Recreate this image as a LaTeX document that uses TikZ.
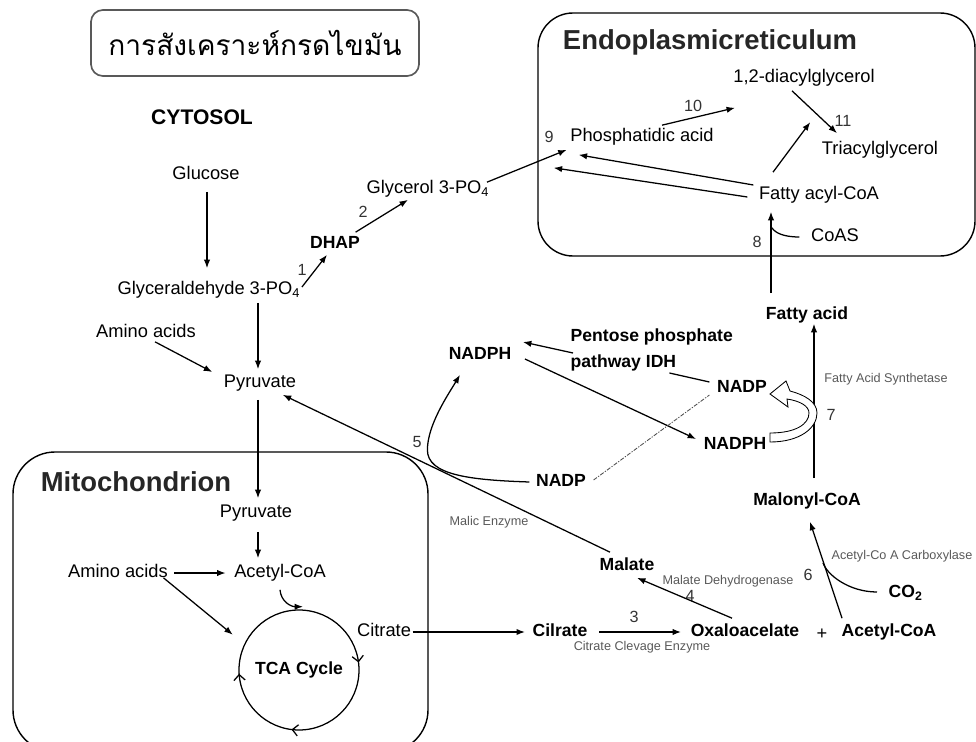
\documentclass[tikz,border=0pt]{standalone}
\usepackage{fontspec}
\setmainfont{Liberation Sans}
\newfontfamily\thaifont[Script=Thai]{Loma}
\usetikzlibrary{arrows.meta,calc,decorations.markings,positioning}

\tikzset{
  lbl/.style={font=\fontsize{13}{15}\selectfont, inner sep=1pt, text height=10pt, text depth=3pt},
  blbl/.style={lbl, font=\fontsize{12.5}{15}\selectfont\bfseries},
  enz/.style={font=\fontsize{9}{11}\selectfont, text=black!65, inner sep=1pt},
  num/.style={font=\fontsize{11.5}{13}\selectfont, text=black!80, inner sep=0pt},
  region/.style={draw, line width=1pt},
  arrow/.style={draw, line width=0.9pt, -{Latex[length=6pt,width=4.5pt]}},
  link/.style={draw, line width=0.9pt},
}

\begin{document}
\begin{tikzpicture}[x=0.025cm, y=-0.025cm]
  \useasboundingbox (0,0) rectangle (976,742);

  % Title
  \node[draw=black!65, line width=1.2pt, rounded corners=0.3cm, minimum width=8.2cm, minimum height=1.65cm,
        font=\thaifont\fontsize{20}{24}\selectfont] (title) at (255,43) {การสังเคราะห์กรดไขมัน};

  % Compartments
  \draw[region, rounded corners=0.875cm] (538,13) rectangle (975,256);
  \draw[region, rounded corners=1.05cm] (13,452) rectangle (428,752);
  \node[font=\fontsize{19.5}{22}\selectfont\bfseries, text=black!85] (erlabel) at (710,42) {Endoplasmicreticulum};
  \node[font=\fontsize{19.5}{22}\selectfont\bfseries, text=black!85] (mitolabel) at (136,482) {Mitochondrion};
  \node[font=\fontsize{15}{18}\selectfont\bfseries] (cytosol) at (202,117) {CYTOSOL};

  % Cytosol
  \node[lbl] (glucose) at (206,175) {Glucose};
  \node[lbl, anchor=west] (gap) at (116,290) {Glyceraldehyde 3-PO\textsubscript{4}};
  \node[blbl] (dhap) at (335,244) {DHAP};
  \node[lbl, anchor=west] (g3p) at (365,189) {Glycerol 3-PO\textsubscript{4}};
  \node[lbl] (amino1) at (146,333) {Amino acids};
  \node[lbl] (pyr1) at (260,383) {Pyruvate};

  % Endoplasmic reticulum
  \node[lbl] (pa) at (642,137) {Phosphatidic acid};
  \node[lbl] (dag) at (804,78) {1,2-diacylglycerol};
  \node[lbl] (tag) at (880,150) {Triacylglycerol};
  \node[lbl] (fac) at (819,195) {Fatty acyl-CoA};
  \node[lbl] (coas) at (835,237) {CoAS};

  % NADPH supply and fatty acid synthesis
  \node[blbl] (fa) at (807,315) {Fatty acid};
  \node[font=\fontsize{12.5}{18.4}\selectfont\bfseries, align=left, anchor=west, inner sep=1pt] (ppp) at (569,350)
       {Pentose phosphate\\pathway IDH};
  \node[blbl] (nadph1) at (480,355) {NADPH};
  \node[blbl] (nadp1) at (742,388) {NADP};
  \node[blbl] (nadph2) at (735,445) {NADPH};
  \node[blbl] (nadp2) at (561,482) {NADP};
  \node[blbl] (malonyl) at (807,501) {Malonyl-CoA};
  \node[blbl] (malate) at (627,566) {Malate};
  \node[blbl] (cilrate) at (560,632) {Cilrate};
  \node[blbl] (oaa) at (745,632) {Oxaloacelate};
  \node[lbl] (plus) at (822,635) {+};
  \node[blbl, anchor=west] (acoa2) at (840,632) {Acetyl-CoA};
  \node[blbl, anchor=west] (co2) at (887,593) {CO\textsubscript{2}};

  % Mitochondrion
  \node[lbl] (pyr2) at (256,513) {Pyruvate};
  \node[lbl] (acoa1) at (280,573) {Acetyl-CoA};
  \node[lbl] (amino2) at (118,573) {Amino acids};
  \node[lbl] (citrate) at (384,632) {Citrate};
  \node[circle, minimum size=3cm, inner sep=0pt, font=\fontsize{12.5}{15}\selectfont\bfseries] (tca) at (299,670) {TCA Cycle};
  \draw[line width=0.9pt, postaction={decorate}, decoration={markings,
        mark=at position 0.27 with {\arrow{Straight Barb[length=4pt,width=8pt]}},
        mark=at position 0.49 with {\arrow{Straight Barb[length=4pt,width=8pt]}},
        mark=at position 0.98 with {\arrow{Straight Barb[length=4pt,width=8pt]}}}]
        (tca.center) circle[radius=60];

  % Enzymes
  \foreach \name/\x/\y/\txt in {fas/886/379/Fatty Acid Synthetase, malic/489/522/Malic Enzyme,
      mdh/728/581/Malate Dehydrogenase, acc/902/556/Acetyl-Co A Carboxylase, cce/642/647/Citrate Clevage Enzyme}
    \node[enz] (\name) at (\x,\y) {\txt};

  % Step numbers
  \foreach \x/\y/\n in {302/270/1, 363/212/2, 634/617/3, 690/596/4, 417/442/5, 808/575/6,
      831/415/7, 757/242/8, 549/137/9, 693/106/10, 843/121/11}
    \node[num] (n\n) at (\x,\y) {\n};

  % Glycolysis and glycerol phosphate
  \draw[arrow] ($(glucose.south)+(1,6)$) -- ($(glucose.south |- gap.north)+(1,-11)$);
  \draw[arrow] ($(pyr1.north |- gap.south)+(-2,2)$) -- ($(pyr1.north)+(-2,-3)$);
  \draw[arrow] ($(amino1.south)+(9,-2)$) -- ($(pyr1.west)+(-10,-11)$);
  \draw[arrow] ($(gap.east)+(0,-3)$) -- ($(dhap.south)+(-8,0)$);
  \draw[arrow] ($(dhap.north east)+(-6,-1)$) -- ($(g3p.south west)+(43,0)$);
  \draw[arrow] ($(g3p.north east)+(-4,4)$) -- ($(pa.south west)+(-2,2)$);

  % Triacylglycerol synthesis
  \draw[arrow] ($(pa.north)+(20,-1)$) -- ($(dag.south)+(-69,19)$);
  \draw[arrow] ($(dag.south)+(-12,2)$) -- ($(tag.north)+(-43,-6)$);
  \draw[arrow] ($(fac.north)+(-46,-12)$) -- ($(tag.north west)+(-10,-17)$);
  \draw[arrow] ($(fac.west)+(-4,-10)$) -- ($(pa.south west)+(10,7)$);
  \draw[arrow] ($(fac.west)+(-10,2)$) -- ($(pa.south west)+(-15,20)$);
  \draw[arrow] ($(fa.north)+(-36,-11)$) -- ($(fac.south)+(-48,6)$);
  \draw[link] ($(coas.west)+(-10,0)$) .. controls +(-16,0) and +(3,5) .. ($(fac.south)+(-47,22)$);

  % Fatty acid synthesis
  \draw[arrow] ($(malonyl.north)+(7,-12)$) -- ($(fa.south)+(7,-2)$);
  \draw[fill=white, line width=0.6pt] (770,442) .. controls (800,442) and (817,428) .. (817,413)
        .. controls (817,402) and (805,395) .. (790,391) -- (786,381) -- (770,394) -- (788,407) -- (787,399)
        .. controls (800,401) and (809,406) .. (809,413) .. controls (809,424) and (796,433) .. (770,433) -- cycle;

  % NADPH
  \draw[arrow] ($(ppp.west)+(4,3)$) -- ($(nadph1.east)+(10,-13)$);
  \draw[link] ($(nadp1.west)+(-46,-15)$) -- ($(nadp1.west)+(-6,-6)$);
  \draw[arrow] ($(nadph1.east)+(12,4)$) -- ($(nadph2.west)+(-6,-6)$);
  \draw[link, densely dashdotted, line width=0.6pt, black!70] ($(nadp2.east)+(6,-2)$) -- ($(nadp1.west)+(-6,7)$);
  \draw[arrow] ($(nadp2.west)+(-5,0)$) .. controls +(-60,-2) and +(0,25) .. ++(-102,-32)
        .. controls +(0,-25) and +(-12,20) .. ($(nadph1.south)+(-20,9)$);
  \draw[arrow] ($(malate.north)+(-17,-3)$) -- ($(pyr1.south east)+(-15,1)$);

  % Citrate shuttle
  \draw[arrow] (citrate.east) -- ($(cilrate.west)+(-6,0)$);
  \draw[arrow] ($(cilrate.east)+(10,0)$) -- ($(oaa.west)+(-8,0)$);
  \draw[arrow] ($(oaa.north)+(-13,-3)$) -- ($(malate.south east)+(-19,1)$);
  \draw[arrow] ($(acoa2.north west)+(2,-3)$) -- ($(malonyl.south)+(3,10)$);
  \draw[link] ($(co2.west)+(-10,-1)$) .. controls +(-28,0) and +(4,12) .. ($(malonyl.south)+(16,51)$);

  % Mitochondrion
  \draw[arrow] ($(pyr1.south)+(-2,6)$) -- ($(pyr2.north)+(2,-4)$);
  \draw[arrow] ($(pyr2.south)+(2,8)$) -- ($(pyr2.south |- acoa1.north)+(2,-4)$);
  \draw[arrow] ($(amino2.east)+(5,0)$) -- ($(acoa1.west)+(-7,0)$);
  \draw[arrow] ($(amino2.south east)+(-6,-6)$) -- ($(tca.152)+(-13,-7)$);
  \draw[arrow] ($(acoa1.south)+(0,6)$) .. controls +(1,12) and +(-12,0) .. ($(tca.north)+(4,-3)$);
\end{tikzpicture}
\end{document}
